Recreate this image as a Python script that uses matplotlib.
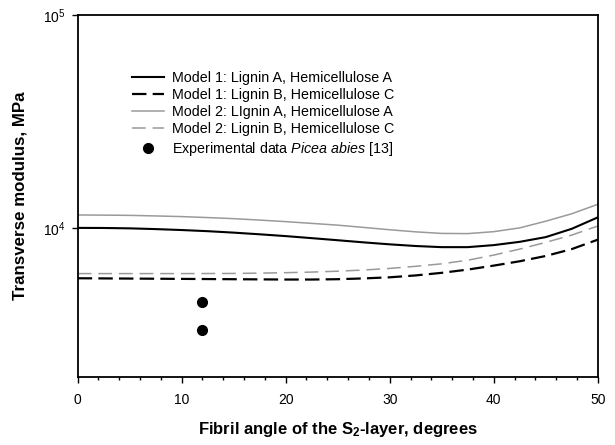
import matplotlib
matplotlib.use("Agg")
import matplotlib.pyplot as plt
from matplotlib.ticker import MultipleLocator, FixedLocator, NullLocator

plt.rcParams['font.family'] = ['Liberation Sans', 'DejaVu Sans']
plt.rcParams['mathtext.fontset'] = 'custom'
plt.rcParams['mathtext.rm'] = 'Liberation Sans'
plt.rcParams['mathtext.it'] = 'Liberation Sans:italic'
plt.rcParams['mathtext.bf'] = 'Liberation Sans:bold'

angles = [0, 2.5, 5, 7.5, 10, 12.5, 15, 17.5, 20, 22.5, 25,
          27.5, 30, 32.5, 35, 37.5, 40, 42.5, 45, 47.5, 50]
m1_ligA_hemA = [10000, 9990, 9950, 9870, 9770, 9650, 9500, 9330, 9150, 8950, 8750,
                8550, 8370, 8220, 8120, 8120, 8300, 8600, 9050, 9900, 11200]
m1_ligB_hemC = [5800, 5790, 5780, 5770, 5760, 5750, 5740, 5730, 5720, 5720, 5740,
                5790, 5860, 5980, 6150, 6370, 6650, 6970, 7380, 7950, 8800]
m2_ligA_hemA = [11500, 11480, 11450, 11380, 11300, 11180, 11050, 10880, 10700, 10500, 10300,
                10050, 9800, 9580, 9420, 9400, 9600, 10000, 10750, 11650, 12900]
m2_ligB_hemC = [6100, 6100, 6100, 6100, 6100, 6105, 6110, 6130, 6160, 6200, 6260,
                6340, 6450, 6600, 6780, 7050, 7450, 7950, 8550, 9250, 10200]
exp_angle = [12, 12]
exp_modulus = [4480, 3300]

fig = plt.figure(figsize=(6.15, 4.45), dpi=100)
ax = fig.add_axes([0.1263, 0.1535, 0.8456, 0.8128])

ax.plot(angles, m1_ligA_hemA, color='black', lw=1.5, label='Model 1: Lignin A, Hemicellulose A')
ax.plot(angles, m1_ligB_hemC, color='black', lw=1.6, dashes=(6.5, 2.8), label='Model 1: Lignin B, Hemicellulose C')
ax.plot(angles, m2_ligA_hemA, color='#9a9a9a', lw=1.1, label='Model 2: LIgnin A, Hemicellulose A')
ax.plot(angles, m2_ligB_hemC, color='#9a9a9a', lw=1.1, dashes=(9, 4.5), label='Model 2: Lignin B, Hemicellulose C')
ax.plot(exp_angle, exp_modulus, 'o', color='black', ms=7, linestyle='none',
        label='Experimental data $\\it{Picea\\ abies}$ [13]')

ax.set_yscale('log')
ax.set_xlim(0, 50)
ax.set_ylim(2000, 1e5)
ax.yaxis.set_major_locator(FixedLocator([1e4, 1e5]))
ax.yaxis.set_minor_locator(NullLocator())
ax.xaxis.set_major_locator(MultipleLocator(10))
ax.xaxis.set_minor_locator(MultipleLocator(2))
ax.tick_params(axis='both', which='major', direction='out', length=4.5, width=1, labelsize=10)
ax.tick_params(axis='x', which='major', pad=7.5)
ax.tick_params(axis='y', which='major', pad=4.5)
ax.tick_params(axis='x', which='minor', direction='out', length=2.5, width=1)
for s in ax.spines.values():
    s.set_linewidth(1.3)

ax.set_xlabel('Fibril angle of the S$_\\mathbf{2}$-layer, degrees', fontsize=12, fontweight='bold', labelpad=9)
ax.set_ylabel('Transverse modulus, MPa', fontsize=12.2, fontweight='bold', labelpad=10.5)

leg = ax.legend(loc='upper left', bbox_to_anchor=(0.079, 0.882), frameon=False, fontsize=10.3,
                handlelength=2.25, handletextpad=0.6, labelspacing=0.23)

fig.savefig('out.png', dpi=100)
